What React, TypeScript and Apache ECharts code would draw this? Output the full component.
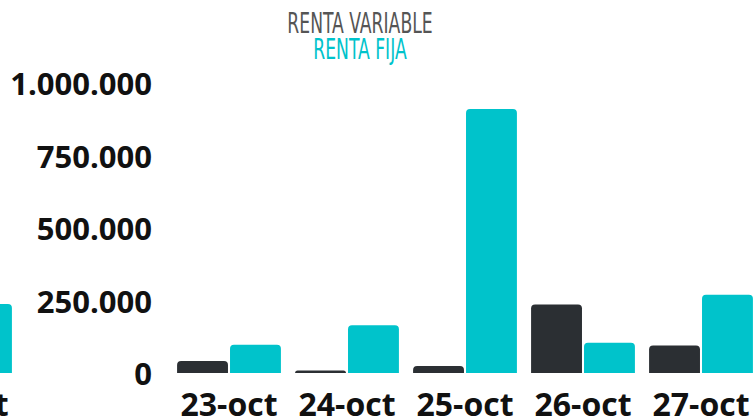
import React, { useEffect, useRef } from "react";
import * as echarts from "echarts";

const categories = ["23-oct", "24-oct", "25-oct", "26-oct", "27-oct"];
const rentaVariable = [41000, 9000, 24000, 236000, 95000];
const rentaFija = [97000, 165000, 910000, 104000, 270000];

// partially visible group at the far left edge
const prevCategories = ["22-oct"];
const prevRentaVariable = [60000];
const prevRentaFija = [238000];

const seriesNames = ["RENTA VARIABLE", "RENTA FIJA"];
const yMax = 1000000;
const yInterval = 250000;

const DARK = "#2b2f33";
const TEAL = "#00c3cb";

const fmt = (v: number) => String(v).replace(/\B(?=(\d{3})+(?!\d))/g, ".");

export default function App() {
  const ref = useRef<HTMLDivElement>(null);
  useEffect(() => {
    if (!ref.current) return;
    const chart = echarts.init(ref.current, undefined, { renderer: "svg" });
    const labelFont = {
      fontFamily: "'Open Sans', sans-serif",
      fontWeight: "bold" as const,
      fontSize: 31,
      color: "#111",
    };
    const xLabel = {
      ...labelFont,
      fontSize: 32,
      margin: 14,
      interval: 0,
      hideOverlap: false,
    };
    const barCommon = {
      type: "bar" as const,
      barGap: "4%",
      barCategoryGap: "12%",
    };
    const titleFont = "'Liberation Sans Narrow', 'DejaVu Sans Condensed', sans-serif";
    chart.setOption({
      animation: false,
      graphic: [
        {
          type: "text",
          x: 360,
          y: 22.5,
          scaleX: 0.66,
          style: {
            text: seriesNames[0],
            fill: "#555555",
            fontFamily: titleFont,
            fontSize: 29,
            align: "center",
            verticalAlign: "middle",
          },
        },
        {
          type: "text",
          x: 360,
          y: 49,
          scaleX: 0.66,
          style: {
            text: seriesNames[1],
            fill: TEAL,
            fontFamily: titleFont,
            fontSize: 29,
            align: "center",
            verticalAlign: "middle",
          },
        },
      ],
      grid: [
        { left: 170, top: 83, right: -6, bottom: 45, outerBoundsMode: "none", containLabel: false },
        { left: -99, top: 83, width: 118, bottom: 45, outerBoundsMode: "none", containLabel: false },
      ],
      xAxis: [
        {
          type: "category",
          gridIndex: 0,
          data: categories,
          axisLine: { show: false },
          axisTick: { show: false },
          axisLabel: xLabel,
        },
        {
          type: "category",
          gridIndex: 1,
          data: prevCategories,
          axisLine: { show: false },
          axisTick: { show: false },
          axisLabel: xLabel,
        },
      ],
      yAxis: [
        {
          type: "value",
          gridIndex: 0,
          min: 0,
          max: yMax,
          interval: yInterval,
          axisLine: { show: false },
          axisTick: { show: false },
          splitLine: { show: false },
          axisLabel: { ...labelFont, margin: 18, formatter: (v: number) => fmt(v) },
        },
        {
          type: "value",
          gridIndex: 1,
          min: 0,
          max: yMax,
          interval: yInterval,
          show: false,
        },
      ],
      series: [
        {
          ...barCommon,
          name: seriesNames[0],
          xAxisIndex: 0,
          yAxisIndex: 0,
          data: rentaVariable,
          itemStyle: { color: DARK, borderRadius: [4, 4, 0, 0] },
        },
        {
          ...barCommon,
          name: seriesNames[1],
          xAxisIndex: 0,
          yAxisIndex: 0,
          data: rentaFija,
          itemStyle: { color: TEAL, borderRadius: [4, 4, 0, 0] },
        },
        {
          ...barCommon,
          name: seriesNames[0],
          xAxisIndex: 1,
          yAxisIndex: 1,
          data: prevRentaVariable,
          itemStyle: { color: DARK, borderRadius: [4, 4, 0, 0] },
        },
        {
          ...barCommon,
          name: seriesNames[1],
          xAxisIndex: 1,
          yAxisIndex: 1,
          data: prevRentaFija,
          itemStyle: { color: TEAL, borderRadius: [4, 4, 0, 0] },
        },
      ],
    });
    return () => chart.dispose();
  }, []);
  return (
    <div
      ref={ref}
      style={{ position: "absolute", left: 0, top: 0, width: 754, height: 418 }}
    />
  );
}
